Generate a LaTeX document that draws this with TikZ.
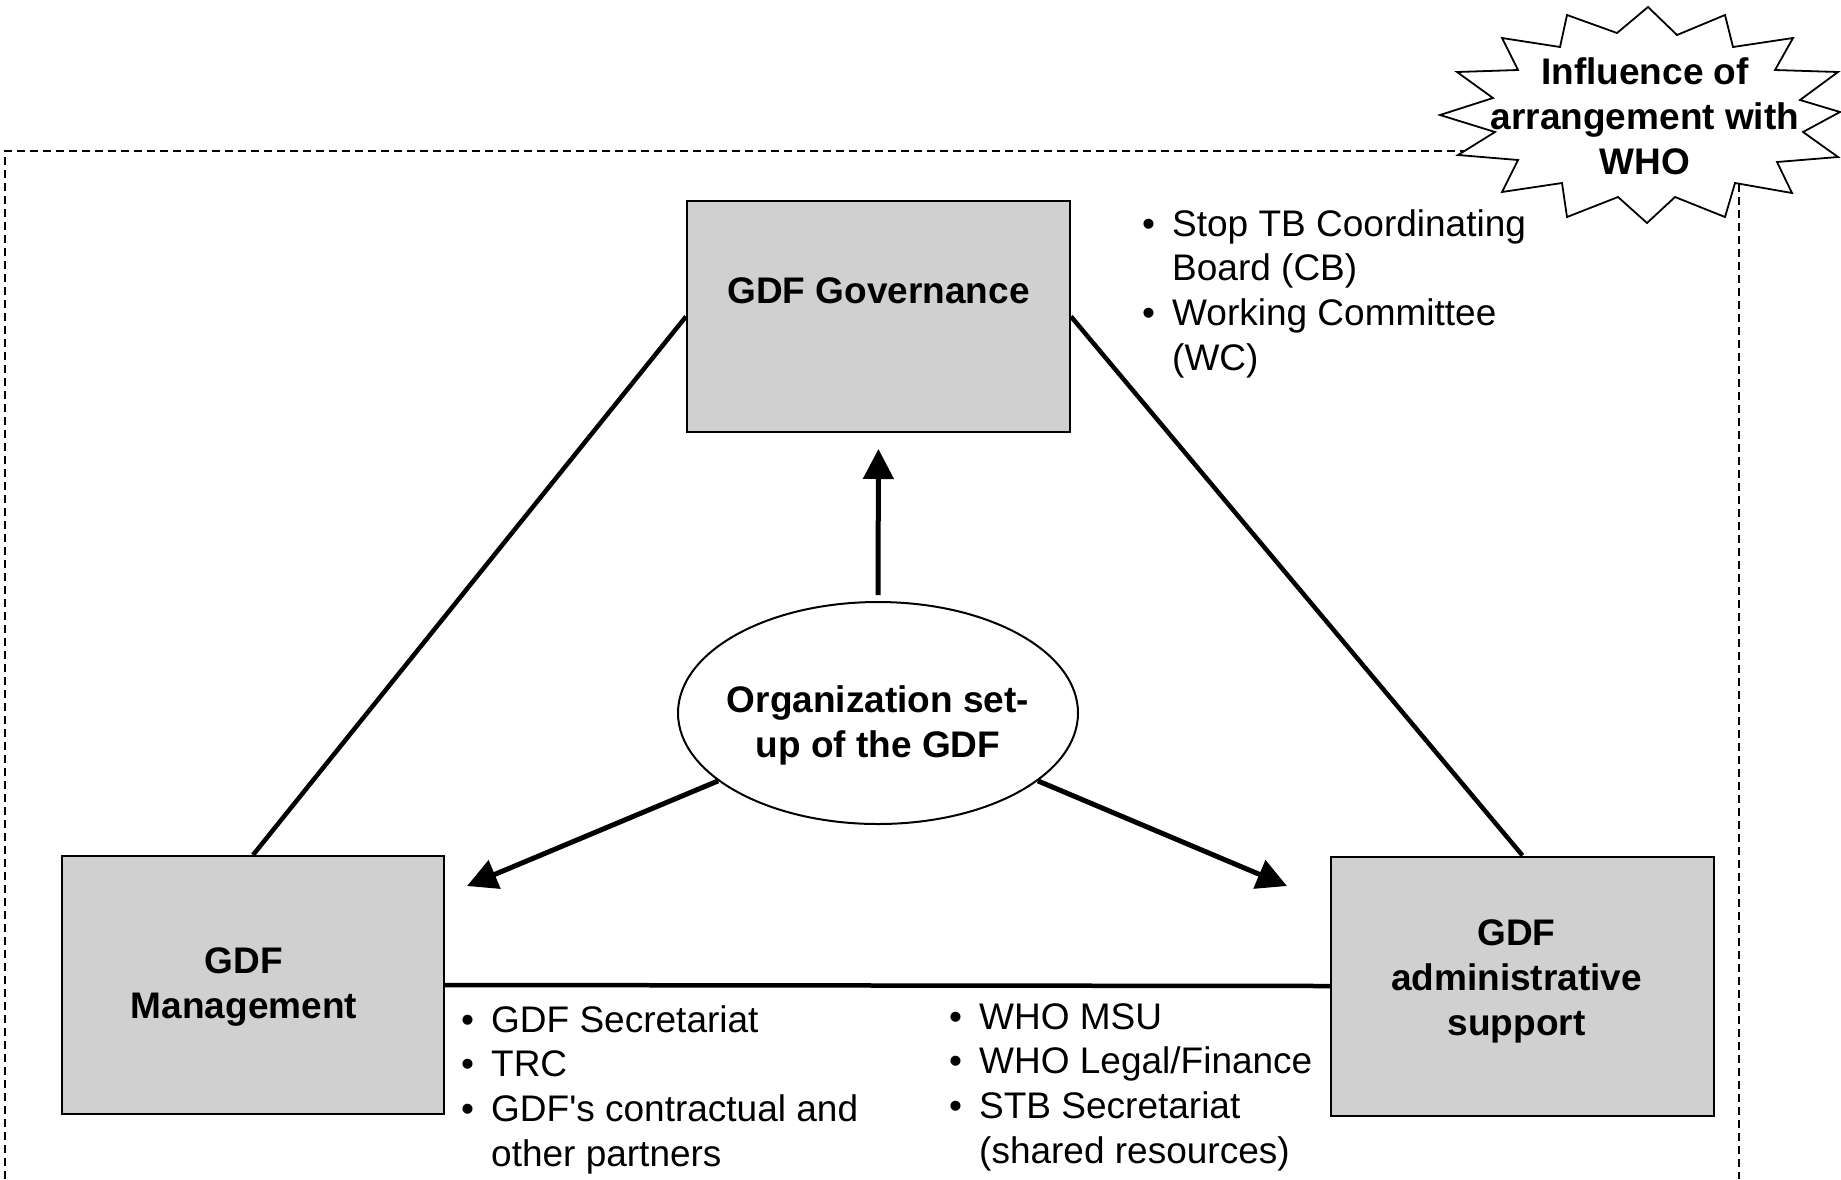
\documentclass[tikz,border=0pt]{standalone}
\usepackage{fontspec}
\setmainfont{Liberation Sans}[Ligatures=TeXOff]
\usetikzlibrary{arrows.meta,calc,shapes.geometric}
\definecolor{boxgray}{RGB}{208,208,208}
\newcommand\bulx{\makebox[30pt][l]{•}}
\begin{document}
\begin{tikzpicture}[x=1pt,y=-1pt,
  every node/.style={font=\fontsize{37}{44.8}\selectfont},
  box/.style={draw=black, line width=2pt, fill=boxgray, inner sep=0pt},
  boxtext/.style={align=center, font=\fontsize{37}{45}\selectfont\bfseries},
  tri/.style={line width=4.5pt},
  arr/.style={line width=5pt, -{Triangle[length=30pt,width=30pt]}},
  list/.style={anchor=base west, inner sep=0pt, font=\fontsize{37}{44.8}\selectfont},
]
\useasboundingbox (0,0) rectangle (1841,1179);
% dashed frame
\draw[dash pattern=on 8pt off 5pt, line width=1.5pt] (5,1179) -- (5,151) -- (1739,151) -- (1739,1179);

% boxes
\node[box, minimum width=383pt, minimum height=231pt,
      label={[boxtext, yshift=25.5pt]center:GDF Governance}] (gov) at (878.5,316.5) {};
\node[box, minimum width=382pt, minimum height=258pt,
      label={[boxtext, yshift=-1.5pt, xshift=-9pt]center:{GDF\\Management}}] (mgmt) at (253,985) {};
\node[box, minimum width=383pt, minimum height=259pt,
      label={[boxtext, yshift=4.5pt, xshift=-6pt]center:{GDF\\administrative\\support}}] (admin) at (1522.5,986) {};
\node[draw, ellipse, line width=2pt, minimum width=400pt, minimum height=222pt, inner sep=0pt,
      label={[boxtext, yshift=-12pt]center:{Organization set-\\up of the GDF}}] (org) at (878,713) {};

% triangle
\draw[tri] (gov.west) -- (mgmt.north);
\draw[tri] (gov.east) -- (admin.north);
\draw[tri] (mgmt.east) -- (admin.west);

% arrows
\coordinate (lt) at (467,886);
\coordinate (rt) at (1287,886);
\draw[arr, shorten <=6pt, shorten >=16pt] (org.north) -- (gov.south);
\draw[arr] (org.203) -- (lt);
\draw[arr] (org.-23) -- (rt);

% lists
\node[list] (govlist) at (1142,236) {\begin{tabular}[t]{@{}l@{}l@{}}
\bulx & Stop TB Coordinating\\
 & Board (CB)\\
\bulx & Working Committee\\
 & (WC)
\end{tabular}};
\node[list] (mgmtlist) at (461,1032) {\begin{tabular}[t]{@{}l@{}l@{}}
\bulx & GDF Secretariat\\
\bulx & TRC\\
\bulx & GDF's contractual and\\
 & other partners
\end{tabular}};
\node[list] (adminlist) at (949,1029) {\begin{tabular}[t]{@{}l@{}l@{}}
\bulx & WHO MSU\\
\bulx & WHO Legal/Finance\\
\bulx & STB Secretariat\\
 & (shared resources)
\end{tabular}};

% starburst
\draw[line width=1.8pt, fill=white]
 (1648,7) -- (1677,35) -- (1725,15) -- (1733,47) -- (1793,38) -- (1775,70) -- (1838,72) -- (1800,100)
 -- (1840,112) -- (1803,132) -- (1838,157) -- (1777,162) -- (1792,193) -- (1735,183) -- (1725,217)
 -- (1675,197) -- (1647,223) -- (1618,197) -- (1567,217) -- (1562,183) -- (1502,192) -- (1518,160)
 -- (1458,155) -- (1495,132) -- (1440,115) -- (1493,98) -- (1457,72) -- (1518,70) -- (1502,38)
 -- (1560,47) -- (1567,15) -- (1617,33) -- cycle;
\node[boxtext, inner sep=0pt] (who) at (1645,116) {Influence of\\arrangement with\\WHO};
\end{tikzpicture}
\end{document}
